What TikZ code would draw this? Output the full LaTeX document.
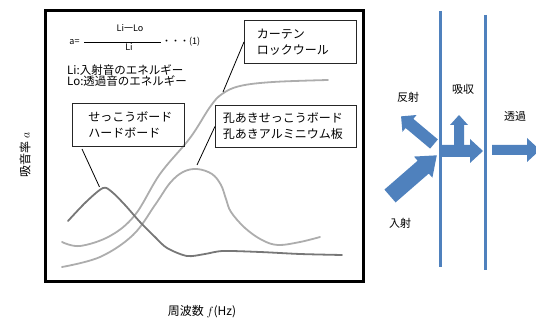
\documentclass[tikz,border=0pt]{standalone}
\usepackage{fontspec}
\setmainfont{Noto Sans CJK JP}
\usetikzlibrary{calc}
\definecolor{ablue}{HTML}{4F81BD}
\definecolor{cdark}{HTML}{777777}
\definecolor{clight}{HTML}{ADADAD}
\newcommand\fatarr[7]{%
  \begin{scope}[shift={(#1,#2)},rotate=#3]
    \fill[ablue] (0,-#5/2) -- (#4-#7,-#5/2) -- (#4-#7,-#6/2) -- (#4,0)
      -- (#4-#7,#6/2) -- (#4-#7,#5/2) -- (0,#5/2) -- cycle;
  \end{scope}}
\begin{document}
\begin{tikzpicture}[x=1pt,y=-1pt,
  lbl/.style={inner sep=0pt},
  callout/.style={draw=black!85,line width=0.8pt,anchor=north west,align=left,
    font=\fontsize{12}{16}\selectfont,inner ysep=0pt},
  leader/.style={draw=black,line width=0.8pt},
  curve/.style={line width=1.8pt,line cap=round,line join=round},
  wall/.style={draw=ablue,line width=3pt}]
\useasboundingbox (0,0) rectangle (536,320);

% frame
\draw[line width=3pt] (45,10.5) rectangle (363,282);

% curves
\draw[curve,clight] plot[smooth,tension=0.6] coordinates {(62,242) (80,246) (110,236) (135,215) (160,174) (190,138) (210,107) (222,94) (240,86) (273,82) (328,80)};
\draw[curve,clight] plot[smooth,tension=0.6] coordinates {(62,267) (100,257) (133,235) (155,205) (170,183) (183,172) (197,169) (212,174) (221,185) (226,199) (231,212) (245,228) (262,240) (278,245) (300,242) (320,237)};
\draw[curve,cdark] plot[smooth,tension=0.5] coordinates {(68,221) (86,202) (103,188) (112,192) (125,205) (140,222) (155,237) (167,248) (187,256) (205,254) (223,251) (260,252) (300,254) (342,255)};

% formula
\node[lbl,font=\fontsize{9}{10}\selectfont] (aeq) at (74.5,42) {a=};
\coordinate (fl) at (84,42);
\coordinate (fr) at (161,42);
\draw[line width=0.6pt] (fl) -- (fr);
\node[lbl,font=\fontsize{9}{10}\selectfont] (num) at (130,28) {Li一Lo};
\node[lbl,font=\fontsize{9}{10}\selectfont] (den) at (129,47) {Li};
\node[lbl,anchor=west,font=\fontsize{9}{10}\selectfont] (dots) at (162,42) {・・・(1)};
\node[lbl,anchor=west,font=\fontsize{11.5}{12}\selectfont] (li) at (67,70) {Li:入射音のエネルギー};
\node[lbl,anchor=west,font=\fontsize{11.5}{12}\selectfont] (lo) at (67,81.5) {Lo:透過音のエネルギー};

% callout boxes
\node[callout,inner xsep=16pt,text width=80pt,minimum height=43pt] (gyp) at (72,103) {せっこうボード\\ハードボード};
\node[callout,inner xsep=7.5pt,text width=126pt,minimum height=42pt] (perf) at (215,105) {孔あきせっこうボード\\孔あきアルミニウム板};
\node[callout,inner xsep=12.5pt,text width=87pt,minimum height=43pt] (curt) at (244,20) {カーテン\\ロックウール};

% leaders
\coordinate (gypA) at (82,149);
\coordinate (gypB) at (99.5,187);
\coordinate (perfB) at (197,165);
\coordinate (curtB) at (223,92);
\draw[leader] (gypA) -- (gypB);
\draw[leader] (perf.west) -- (perfB);
\draw[leader] (curt.west) -- (curtB);

% axis labels
\node[lbl,rotate=90,font=\fontsize{12}{14}\selectfont] (ylab) at (25,155) {吸音率 $a$};
\node[lbl,font=\fontsize{12}{14}\selectfont] (xlab) at (202,312) {周波数 $f$(Hz)};

% walls
\coordinate (w1t) at (440,11);
\coordinate (w1b) at (440,267);
\coordinate (w2t) at (485,15);
\coordinate (w2b) at (485,270);
\draw[wall] (w1t) -- (w1b);
\draw[wall] (w2t) -- (w2b);

% fat arrows
\fatarr{390}{196}{41}{62}{17}{28}{18}
\fatarr{434}{144}{140}{43}{12}{22}{11}
\fatarr{459}{146}{90}{31}{10}{18}{10}
\fatarr{442}{151}{0}{41}{12}{24}{13}
\fatarr{492}{150}{0}{48}{10}{24}{13}

% right labels
\node[lbl,font=\fontsize{11}{12}\selectfont] (refl) at (408,97) {反射};
\node[lbl,font=\fontsize{11}{12}\selectfont] (abs) at (463,89) {吸収};
\node[lbl,font=\fontsize{11}{12}\selectfont] (trans) at (515,116) {透過};
\node[lbl,font=\fontsize{11}{12}\selectfont] (inc) at (400,223) {入射};
\end{tikzpicture}
\end{document}
